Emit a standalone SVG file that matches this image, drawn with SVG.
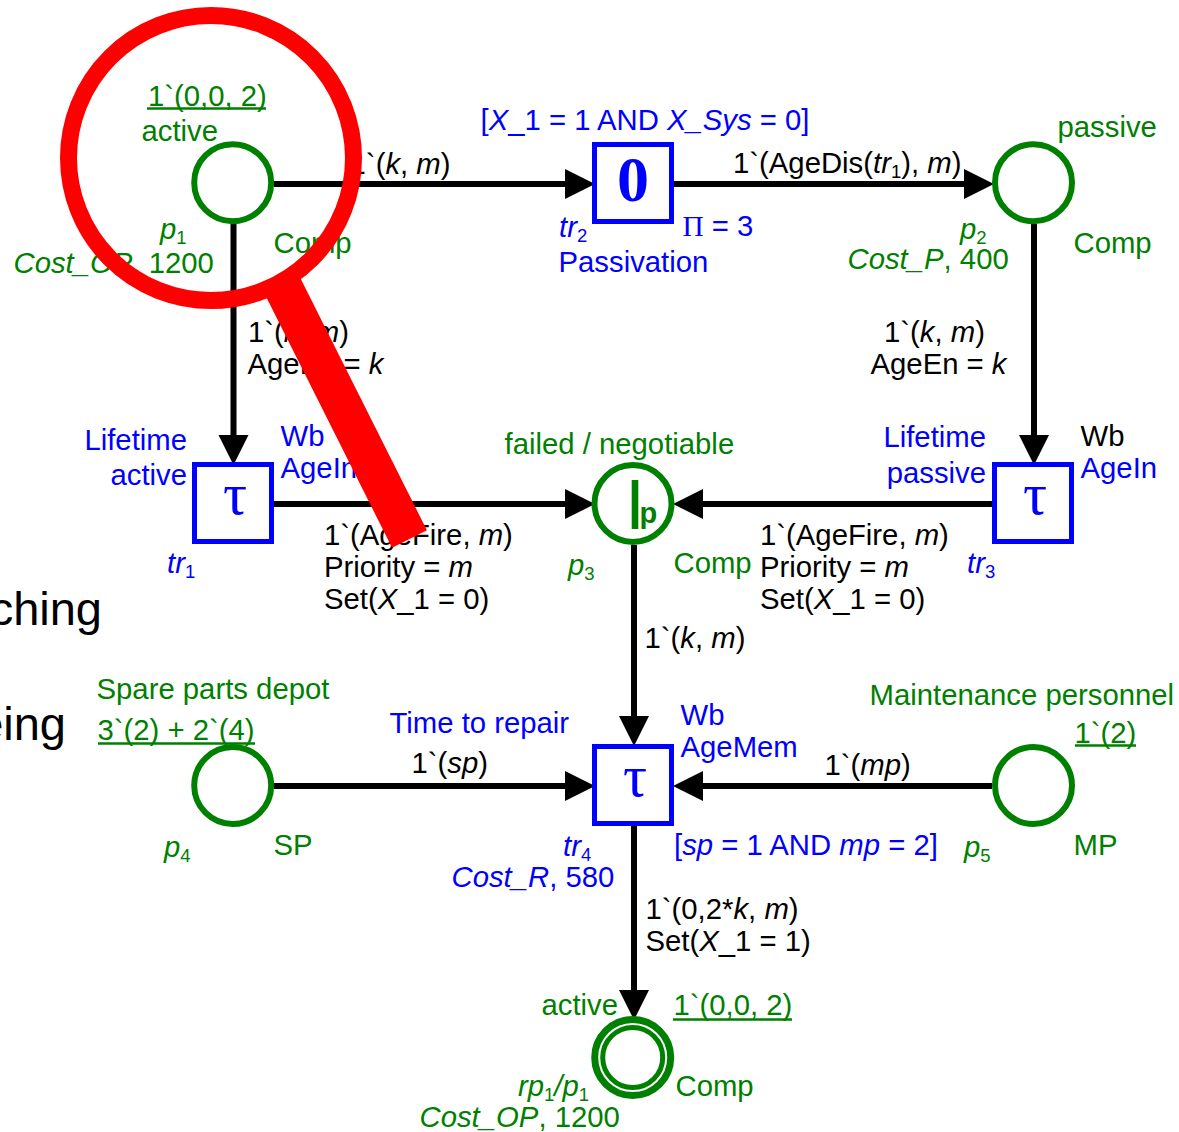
<svg xmlns="http://www.w3.org/2000/svg" width="1179" height="1132" viewBox="0 0 1179 1132">
<style>
text{font-family:"Liberation Sans",Arial,sans-serif;font-size:29.300px;white-space:pre}
.g{fill:#008000}.b{fill:#0000ff}.k{fill:#000}
.i{font-style:italic}
.s{font-size:18.500px}
.place{fill:#fff;stroke:#008000;stroke-width:6}
.trans{fill:#fff;stroke:#0000ff;stroke-width:5}
.ul{stroke:#008000;stroke-width:2.500}
.arc{stroke:#000;stroke-width:6;fill:none;marker-end:url(#ah)}
.sym{font-family:"Liberation Serif","Times New Roman",serif;fill:#0000ff;text-anchor:middle}
</style>
<defs>
<marker id="ah" markerUnits="userSpaceOnUse" markerWidth="32" markerHeight="32" refX="2" refY="15" orient="auto"><path d="M0 0L30 15L0 30Z" fill="#000"/></marker>
</defs>
<g id="background-text" class="k">
<text x="102" y="625" style="font-size:47px" text-anchor="end">ching</text>
<text x="66" y="740" style="font-size:47px" text-anchor="end">eing</text>
</g>
<g id="connectors">
<path class="arc" d="M274 184H567"/>
<path class="arc" d="M674 184H966"/>
<path class="arc" d="M233.500 224V437"/>
<path class="arc" d="M1034 224V437"/>
<path class="arc" d="M274 504H567"/>
<path class="arc" d="M992 504H701"/>
<path class="arc" d="M634 545V718"/>
<path class="arc" d="M274 786H567"/>
<path class="arc" d="M992 786H701"/>
<path class="arc" d="M634 826V992"/>
</g>
<g id="arc-labels" class="k">
<text x="450.500" y="174" text-anchor="end">1`(<tspan class="i">k</tspan>, <tspan class="i">m</tspan>)</text>
<text x="733" y="173">1`(AgeDis(<tspan class="i">tr</tspan><tspan class="s" dy="5">1</tspan><tspan dy="-5">), </tspan><tspan class="i">m</tspan>)</text>
<text x="248" y="342">1`(<tspan class="i">k</tspan>, <tspan class="i">m</tspan>)</text>
<text x="247.500" y="374">AgeEn = <tspan class="i">k</tspan></text>
<text x="884" y="342">1`(<tspan class="i">k</tspan>, <tspan class="i">m</tspan>)</text>
<text x="870.500" y="374">AgeEn = <tspan class="i">k</tspan></text>
<text x="324" y="545">1`(AgeFire, <tspan class="i">m</tspan>)</text>
<text x="324" y="577">Priority = <tspan class="i">m</tspan></text>
<text x="324" y="609">Set(<tspan class="i">X</tspan>_1 = 0)</text>
<text x="760" y="545">1`(AgeFire, <tspan class="i">m</tspan>)</text>
<text x="760" y="577">Priority = <tspan class="i">m</tspan></text>
<text x="760" y="609">Set(<tspan class="i">X</tspan>_1 = 0)</text>
<text x="644.500" y="648">1`(<tspan class="i">k</tspan>, <tspan class="i">m</tspan>)</text>
<text x="411.500" y="773">1`(<tspan class="i">sp</tspan>)</text>
<text x="824.500" y="775">1`(<tspan class="i">mp</tspan>)</text>
<text x="645.500" y="919">1`(0,2*<tspan class="i">k</tspan>, <tspan class="i">m</tspan>)</text>
<text x="645.500" y="951">Set(<tspan class="i">X</tspan>_1 = 1)</text>
</g>
<g id="p1">
<circle class="place" cx="232.700" cy="182.700" r="38.500"/>
<text class="g" x="148" y="106">1`(0,0, 2)</text>
<path class="ul" d="M147 108.500H266"/>
<text class="g" x="141.500" y="141">active</text>
<text class="g" x="160" y="239"><tspan class="i">p</tspan><tspan class="s" dy="5">1</tspan></text>
<text class="g" x="13.500" y="273"><tspan class="i">Cost_OP</tspan>, 1200</text>
<text class="g" x="273.500" y="253">Comp</text>
</g>
<g id="p2">
<circle class="place" cx="1033.500" cy="182.700" r="38.500"/>
<text class="g" x="1057.500" y="137">passive</text>
<text class="g" x="960" y="239"><tspan class="i">p</tspan><tspan class="s" dy="5">2</tspan></text>
<text class="g" x="847.500" y="269"><tspan class="i">Cost_P</tspan>, 400</text>
<text class="g" x="1073.500" y="253">Comp</text>
</g>
<g id="p3">
<circle class="place" cx="633" cy="503.500" r="38.500"/>
<rect x="631.700" y="480" width="6.600" height="49" fill="#008000"/>
<text class="g" x="639.500" y="523" style="font-weight:bold;font-size:29px">p</text>
<text class="g" x="504.500" y="454">failed / negotiable</text>
<text class="g" x="568" y="575"><tspan class="i">p</tspan><tspan class="s" dy="5">3</tspan></text>
<text class="g" x="673.500" y="573">Comp</text>
</g>
<g id="p4">
<circle class="place" cx="232.700" cy="785.500" r="38.500"/>
<text class="g" x="96.500" y="699">Spare parts depot</text>
<text class="g" x="97.500" y="740">3`(2) + 2`(4)</text>
<path class="ul" d="M98 743.500H255"/>
<text class="g" x="164" y="857"><tspan class="i">p</tspan><tspan class="s" dy="5">4</tspan></text>
<text class="g" x="273.500" y="855">SP</text>
</g>
<g id="p5">
<circle class="place" cx="1033.500" cy="785.500" r="38.500"/>
<text class="g" x="869.500" y="705">Maintenance personnel</text>
<text class="g" x="1074.500" y="743">1`(2)</text>
<path class="ul" d="M1075 745.500H1136"/>
<text class="g" x="964" y="857"><tspan class="i">p</tspan><tspan class="s" dy="5">5</tspan></text>
<text class="g" x="1073.500" y="855">MP</text>
</g>
<g id="rp1">
<circle cx="632.700" cy="1057.500" r="38" fill="#fff" stroke="#008000" stroke-width="7"/>
<circle cx="632.700" cy="1057.500" r="30" fill="#fff" stroke="#008000" stroke-width="5"/>
<text class="g" x="541.500" y="1015">active</text>
<text class="g" x="673.500" y="1015">1`(0,0, 2)</text>
<path class="ul" d="M673 1019.500H792"/>
<text class="g" x="518" y="1096"><tspan class="i">rp</tspan><tspan class="s" dy="5">1</tspan><tspan class="i" dy="-5">/p</tspan><tspan class="s" dy="5">1</tspan></text>
<text class="g" x="419.500" y="1127"><tspan class="i">Cost_OP</tspan>, 1200</text>
<text class="g" x="675.500" y="1096">Comp</text>
</g>
<g id="tr1">
<rect class="trans" x="194.500" y="464.500" width="77" height="77"/>
<text class="sym" x="235" y="514" style="font-size:60px">τ</text>
<text class="b" x="187" y="450" text-anchor="end">Lifetime</text>
<text class="b" x="187" y="485" text-anchor="end">active</text>
<text class="b" x="280.500" y="446">Wb</text>
<text class="b" x="280.500" y="478">AgeIn</text>
<text class="b" x="167" y="573"><tspan class="i">tr</tspan><tspan class="s" dy="5">1</tspan></text>
</g>
<g id="tr2">
<rect class="trans" x="594.500" y="144.500" width="77" height="77"/>
<text class="sym" x="633" y="201" style="font-size:64px;font-weight:bold">0</text>
<text class="b" x="480.500" y="130">[<tspan class="i">X</tspan>_1 = 1 AND <tspan class="i">X_Sys</tspan> = 0]</text>
<text class="b" x="559" y="237"><tspan class="i">tr</tspan><tspan class="s" dy="5">2</tspan></text>
<text class="b" x="558.500" y="272">Passivation</text>
<text class="b" x="682.500" y="236"><tspan style="font-family:'Liberation Serif',serif">Π</tspan> = 3</text>
</g>
<g id="tr3">
<rect class="trans" x="994.500" y="464.500" width="77" height="77"/>
<text class="sym" x="1035" y="514" style="font-size:60px">τ</text>
<text class="b" x="986" y="447" text-anchor="end">Lifetime</text>
<text class="b" x="986" y="483" text-anchor="end">passive</text>
<text class="k" x="1080.500" y="446">Wb</text>
<text class="b" x="1080.500" y="478">AgeIn</text>
<text class="b" x="967" y="573"><tspan class="i">tr</tspan><tspan class="s" dy="5">3</tspan></text>
</g>
<g id="tr4">
<rect class="trans" x="594.500" y="746.500" width="77" height="77"/>
<text class="sym" x="635" y="796" style="font-size:60px">τ</text>
<text class="b" x="389.500" y="733">Time to repair</text>
<text class="b" x="680.500" y="725">Wb</text>
<text class="b" x="680.500" y="757">AgeMem</text>
<text class="b" x="563" y="856"><tspan class="i">tr</tspan><tspan class="s" dy="5">4</tspan></text>
<text class="b" x="451.500" y="887"><tspan class="i">Cost_R</tspan>, 580</text>
<text class="b" x="674" y="855">[<tspan class="i">sp</tspan> = 1 AND <tspan class="i">mp</tspan> = 2]</text>
</g>
<g id="magnifier">
<circle cx="211" cy="158" r="142.500" fill="none" stroke="#ff0000" stroke-width="17"/>
<path d="M280 281L409.500 539" fill="none" stroke="#ff0000" stroke-width="39"/>
</g>
</svg>
